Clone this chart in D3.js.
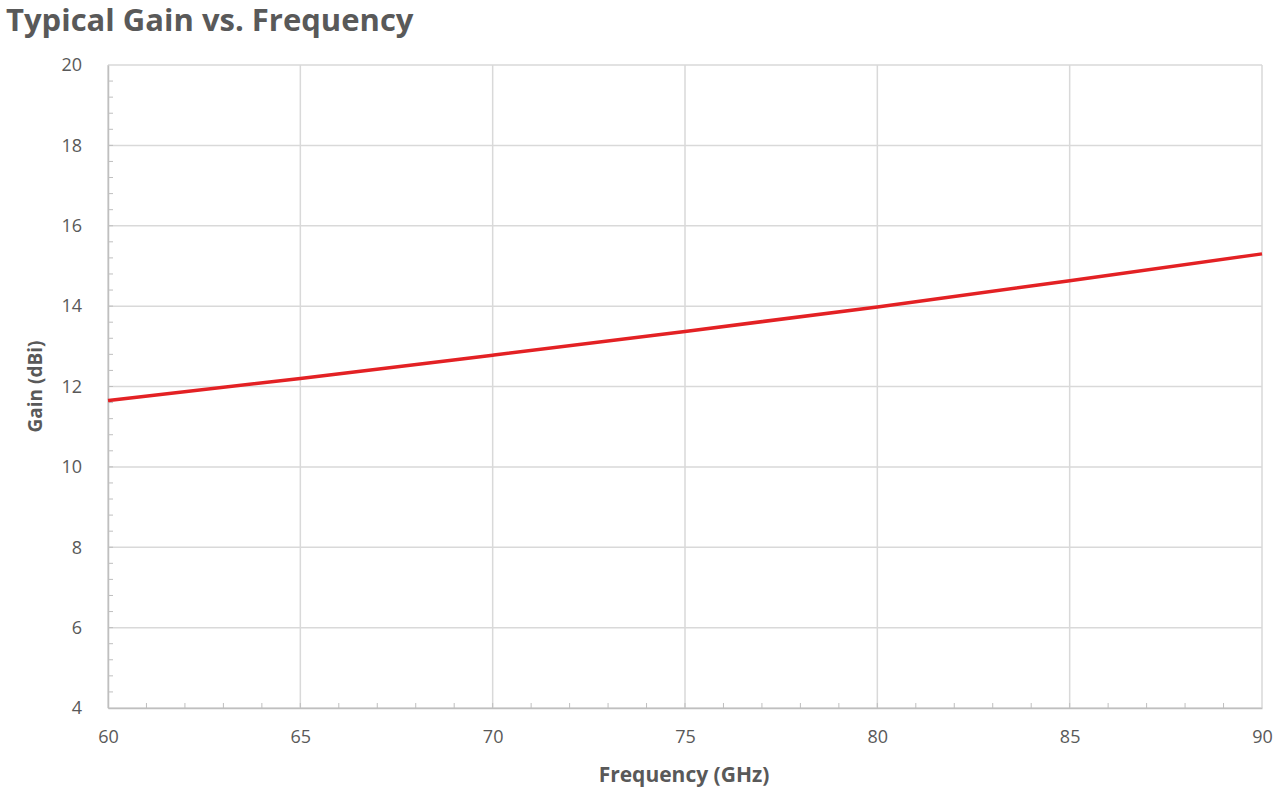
<!DOCTYPE html>
<html>
<head>
<meta charset="utf-8">
<script src="https://cdn.jsdelivr.net/npm/d3@7"></script>
<style>
  body { margin: 0; background: #fff; }
  text { font-family: "Open Sans", "DejaVu Sans", sans-serif; }
</style>
</head>
<body>
<svg id="svg"></svg>
<script>
// Data
const frequency = [60, 65, 70, 75, 80, 85, 90];
const gain = [11.65, 12.2, 12.78, 13.37, 13.98, 14.63, 15.3];
const xTicks = [60, 65, 70, 75, 80, 85, 90];
const yTicks = [4, 6, 8, 10, 12, 14, 16, 18, 20];

const width = 1280;
const height = 792;
const margin = { top: 65, right: 18, bottom: 84, left: 108 };

const svg = d3.select('#svg')
  .attr('width', width)
  .attr('height', height);

const x = d3.scaleLinear().domain([60, 90]).range([margin.left, width - margin.right]);
const y = d3.scaleLinear().domain([4, 20]).range([height - margin.bottom, margin.top]);

// Title
svg.append('text')
  .attr('x', 6)
  .attr('y', 31)
  .attr('font-size', '31px')
  .attr('font-weight', 'bold')
  .attr('fill', '#595959')
  .text('Typical Gain vs. Frequency');

// Gridlines
svg.append('g')
  .selectAll('line.v')
  .data(xTicks)
  .join('line')
  .attr('x1', d => x(d)).attr('x2', d => x(d))
  .attr('y1', y(4)).attr('y2', y(20))
  .attr('stroke', '#d9d9d9').attr('stroke-width', 1.5);

svg.append('g')
  .selectAll('line.h')
  .data(yTicks)
  .join('line')
  .attr('x1', x(60)).attr('x2', x(90))
  .attr('y1', d => y(d)).attr('y2', d => y(d))
  .attr('stroke', '#d9d9d9').attr('stroke-width', 1.5);

// Minor ticks (inside)
svg.append('g')
  .selectAll('line')
  .data(d3.range(61, 90))
  .join('line')
  .attr('x1', d => x(d)).attr('x2', d => x(d))
  .attr('y1', y(4)).attr('y2', y(4) - 5)
  .attr('stroke', '#bfbfbf');

svg.append('g')
  .selectAll('line')
  .data(d3.range(4.4, 20, 0.4))
  .join('line')
  .attr('x1', x(60)).attr('x2', x(60) + 5)
  .attr('y1', d => y(d)).attr('y2', d => y(d))
  .attr('stroke', '#bfbfbf');

// Axes
const xAxis = svg.append('g')
  .attr('transform', `translate(0, ${y(4)})`)
  .call(d3.axisBottom(x).tickValues(xTicks).tickSize(0).tickPadding(22));
const yAxis = svg.append('g')
  .attr('transform', `translate(${x(60)}, 0)`)
  .call(d3.axisLeft(y).tickValues(yTicks).tickSize(0).tickPadding(26));

[xAxis, yAxis].forEach(a => {
  a.select('.domain').attr('stroke', '#bfbfbf').attr('stroke-width', 1.5);
  a.selectAll('text').attr('font-size', '18px').attr('fill', '#595959')
    .style('font-family', '"Open Sans", "DejaVu Sans", sans-serif');
});

// Axis titles
svg.append('text')
  .attr('x', 684)
  .attr('y', 782)
  .attr('text-anchor', 'middle')
  .attr('font-size', '21px')
  .attr('font-weight', 'bold')
  .attr('fill', '#595959')
  .text('Frequency (GHz)');

svg.append('text')
  .attr('transform', `translate(42, ${y(12)}) rotate(-90)`)
  .attr('text-anchor', 'middle')
  .attr('font-size', '19px')
  .attr('font-weight', 'bold')
  .attr('fill', '#595959')
  .text('Gain (dBi)');

// Series
const line = d3.line()
  .x((d, i) => x(frequency[i]))
  .y(d => y(d))
  .curve(d3.curveMonotoneX);

svg.append('path')
  .datum(gain)
  .attr('d', line)
  .attr('fill', 'none')
  .attr('stroke', '#e32124')
  .attr('stroke-width', 3.5);
</script>
</body>
</html>
